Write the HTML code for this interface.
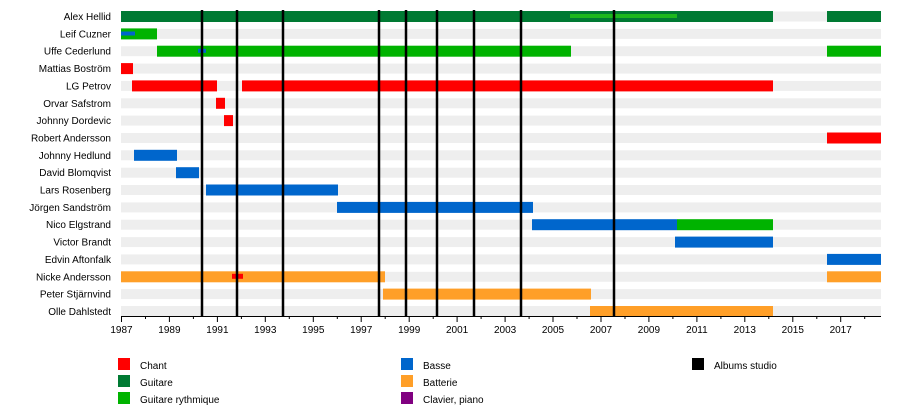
<!DOCTYPE html>
<html><head><meta charset="utf-8"><style>body{margin:0;background:#fff}svg{display:block;font-family:"Liberation Sans",sans-serif}</style></head><body>
<svg width="900" height="416" xmlns="http://www.w3.org/2000/svg">
<g fill="#eeeeee">
<rect x="121" y="11.5" width="760" height="10"/><rect x="121" y="28.9" width="760" height="10"/><rect x="121" y="46.2" width="760" height="10"/><rect x="121" y="63.6" width="760" height="10"/><rect x="121" y="80.9" width="760" height="10"/><rect x="121" y="98.3" width="760" height="10"/><rect x="121" y="115.6" width="760" height="10"/><rect x="121" y="133" width="760" height="10"/><rect x="121" y="150.3" width="760" height="10"/><rect x="121" y="167.7" width="760" height="10"/><rect x="121" y="185" width="760" height="10"/><rect x="121" y="202.4" width="760" height="10"/><rect x="121" y="219.7" width="760" height="10"/><rect x="121" y="237.1" width="760" height="10"/><rect x="121" y="254.4" width="760" height="10"/><rect x="121" y="271.8" width="760" height="10"/><rect x="121" y="289.1" width="760" height="10"/><rect x="121" y="306" width="760" height="10"/>
</g>
<g font-size="10" text-anchor="end" fill="#000">
<text x="111" y="20">Alex Hellid</text><text x="111" y="37.4">Leif Cuzner</text><text x="111" y="54.7">Uffe Cederlund</text><text x="111" y="72">Mattias Boström</text><text x="111" y="89.4">LG Petrov</text><text x="111" y="106.8">Orvar Safstrom</text><text x="111" y="124.1">Johnny Dordevic</text><text x="111" y="141.5">Robert Andersson</text><text x="111" y="158.8">Johnny Hedlund</text><text x="111" y="176.2">David Blomqvist</text><text x="111" y="193.5">Lars Rosenberg</text><text x="111" y="210.9">Jörgen Sandström</text><text x="111" y="228.2">Nico Elgstrand</text><text x="111" y="245.6">Victor Brandt</text><text x="111" y="262.9">Edvin Aftonfalk</text><text x="111" y="280.3">Nicke Andersson</text><text x="111" y="297.6">Peter Stjärnvind</text><text x="111" y="315">Olle Dahlstedt</text>
</g>
<g>
<rect x="121" y="11" width="652" height="11" fill="#007a33"/><rect x="827" y="11" width="54" height="11" fill="#007a33"/><rect x="570" y="14" width="107" height="4" fill="#1db81d"/>
<rect x="121" y="28.4" width="36" height="11" fill="#00b300"/><rect x="121" y="31.5" width="14" height="4" fill="#0066cc"/>
<rect x="157" y="45.7" width="414" height="11" fill="#00b300"/><rect x="198" y="48.8" width="8" height="4" fill="#0066cc"/><rect x="827" y="45.7" width="54" height="11" fill="#00b300"/>
<rect x="121" y="63.1" width="12" height="11" fill="#ff0000"/>
<rect x="132" y="80.4" width="85" height="11" fill="#ff0000"/><rect x="242" y="80.4" width="531" height="11" fill="#ff0000"/>
<rect x="216" y="97.8" width="9" height="11" fill="#ff0000"/>
<rect x="224" y="115.1" width="9" height="11" fill="#ff0000"/>
<rect x="827" y="132.5" width="54" height="11" fill="#ff0000"/>
<rect x="134" y="149.8" width="43" height="11" fill="#0066cc"/>
<rect x="176" y="167.2" width="23" height="11" fill="#0066cc"/>
<rect x="206" y="184.5" width="132" height="11" fill="#0066cc"/>
<rect x="337" y="201.9" width="196" height="11" fill="#0066cc"/>
<rect x="532" y="219.2" width="145" height="11" fill="#0066cc"/><rect x="677" y="219.2" width="96" height="11" fill="#00b300"/>
<rect x="675" y="236.6" width="98" height="11" fill="#0066cc"/>
<rect x="827" y="253.9" width="54" height="11" fill="#0066cc"/>
<rect x="121" y="271.3" width="264" height="11" fill="#ff9f28"/><rect x="232" y="273.8" width="11" height="5" fill="#ff0000"/><rect x="827" y="271.3" width="54" height="11" fill="#ff9f28"/>
<rect x="383" y="288.6" width="208" height="11" fill="#ff9f28"/>
<rect x="590" y="306" width="183" height="11" fill="#ff9f28"/>
</g>
<g stroke="#000" stroke-width="2.5">
<line x1="202" y1="10" x2="202" y2="316"/><line x1="237" y1="10" x2="237" y2="316"/><line x1="283" y1="10" x2="283" y2="316"/><line x1="379" y1="10" x2="379" y2="316"/><line x1="406" y1="10" x2="406" y2="316"/><line x1="437" y1="10" x2="437" y2="316"/><line x1="474" y1="10" x2="474" y2="316"/><line x1="521" y1="10" x2="521" y2="316"/><line x1="614" y1="10" x2="614" y2="316"/>
</g>
<g stroke="#000" stroke-width="1">
<line x1="121" y1="316.5" x2="881" y2="316.5"/>
<path d="M121.5 316v6M169.4 316v6M217.4 316v6M265.3 316v6M313.3 316v6M361.2 316v6M409.2 316v6M457.1 316v6M505.1 316v6M553 316v6M601 316v6M648.9 316v6M696.9 316v6M744.8 316v6M792.8 316v6M840.7 316v6"/>
<path d="M145.5 316v3M193.4 316v3M241.4 316v3M289.3 316v3M337.3 316v3M385.2 316v3M433.2 316v3M481.1 316v3M529.1 316v3M577 316v3M625 316v3M672.9 316v3M720.9 316v3M768.8 316v3M816.8 316v3M864.7 316v3"/>
</g>
<g font-size="10" text-anchor="middle">
<text x="121.5" y="333">1987</text><text x="169.4" y="333">1989</text><text x="217.4" y="333">1991</text><text x="265.3" y="333">1993</text><text x="313.3" y="333">1995</text><text x="361.2" y="333">1997</text><text x="409.2" y="333">1999</text><text x="457.1" y="333">2001</text><text x="505.1" y="333">2003</text><text x="553" y="333">2005</text><text x="601" y="333">2007</text><text x="648.9" y="333">2009</text><text x="696.9" y="333">2011</text><text x="744.8" y="333">2013</text><text x="792.8" y="333">2015</text><text x="840.7" y="333">2017</text>
</g>
<g font-size="10">
<rect x="118" y="358" width="12" height="12" fill="#ff0000"/><text x="140" y="369">Chant</text>
<rect x="118" y="375" width="12" height="12" fill="#007a33"/><text x="140" y="386">Guitare</text>
<rect x="118" y="392" width="12" height="12" fill="#00b300"/><text x="140" y="403">Guitare rythmique</text>
<rect x="401" y="358" width="12" height="12" fill="#0066cc"/><text x="423" y="369">Basse</text>
<rect x="401" y="375" width="12" height="12" fill="#ff9f28"/><text x="423" y="386">Batterie</text>
<rect x="401" y="392" width="12" height="12" fill="#800080"/><text x="423" y="403">Clavier, piano</text>
<rect x="692" y="358" width="12" height="12" fill="#000"/><text x="714" y="369">Albums studio</text>
</g>
</svg>
</body></html>
